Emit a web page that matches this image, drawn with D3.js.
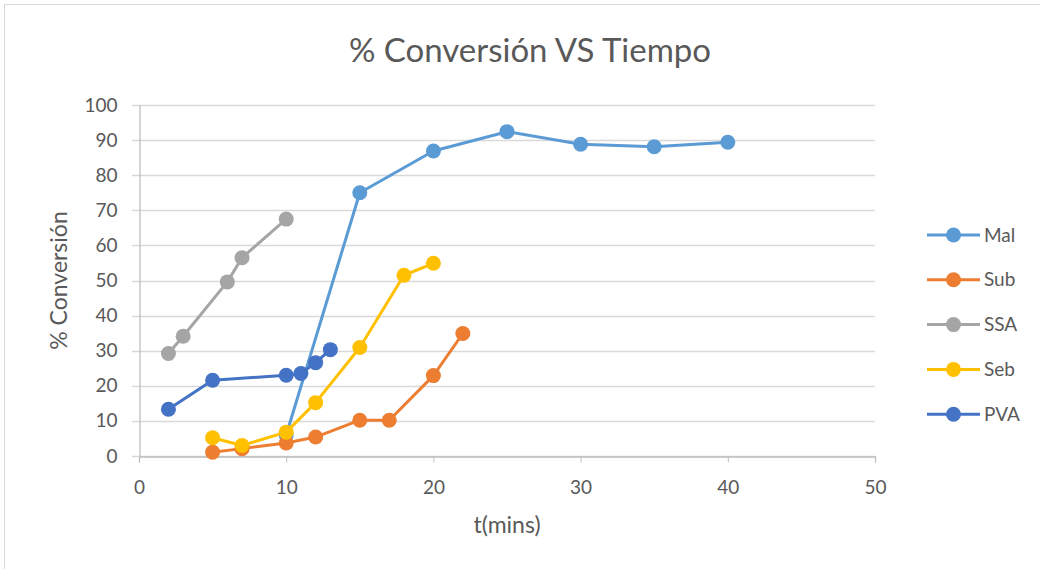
<!DOCTYPE html>
<html>
<head>
<meta charset="utf-8">
<script src="https://cdnjs.cloudflare.com/ajax/libs/d3/7.8.5/d3.min.js"></script>
<style>
  body { margin: 0; background: #fff; }
  text { font-family: Lato, "Open Sans", sans-serif; fill: #595959; }
</style>
</head>
<body>
<script>
// data
var seriesNames = ["Mal", "Sub", "SSA", "Seb", "PVA"];
var seriesColors = ["#5B9BD5", "#ED7D31", "#A5A5A5", "#FFC000", "#4472C4"];

var malT = [10, 15, 20, 25, 30, 35, 40];
var malV = [6.0, 75.0, 86.9, 92.4, 88.8, 88.1, 89.4];

var subT = [5, 7, 10, 12, 15, 17, 20, 22];
var subV = [1.1, 2.1, 3.7, 5.4, 10.2, 10.2, 22.9, 34.9];

var ssaT = [2, 3, 6, 7, 10];
var ssaV = [29.2, 34.1, 49.6, 56.5, 67.5];

var sebT = [5, 7, 10, 12, 15, 18, 20];
var sebV = [5.2, 3.0, 6.8, 15.2, 30.9, 51.5, 54.9];

var pvaT = [2, 5, 10, 11, 12, 13];
var pvaV = [13.3, 21.6, 23.0, 23.5, 26.6, 30.3];

var xTicks = [0, 10, 20, 30, 40, 50];
var yTicks = [0, 10, 20, 30, 40, 50, 60, 70, 80, 90, 100];

var allT = [malT, subT, ssaT, sebT, pvaT];
var allV = [malV, subV, ssaV, sebV, pvaV];

var series = seriesNames.map(function(name, i) {
    return {
        name: name,
        color: seriesColors[i],
        points: allT[i].map(function(t, j) { return {t: t, v: allV[i][j]}; })
    };
});

var width = 1040, height = 569;
var margin = {top: 105, left: 139, right: 165, bottom: 113};

var svg = d3.select("body").append("svg")
    .attr("width", width)
    .attr("height", height);

// chart border
svg.append("rect")
    .attr("x", 4.5).attr("y", 4.5)
    .attr("width", width + 10).attr("height", height + 10)
    .attr("fill", "none")
    .attr("stroke", "#D9D9D9");

var xScale = d3.scaleLinear().domain([0, 50]).range([margin.left, width - margin.right]);
var yScale = d3.scaleLinear().domain([0, 100]).range([height - margin.bottom, margin.top]);

// gridlines
svg.append("g")
    .selectAll("line")
    .data(yTicks)
    .enter()
    .append("line")
        .attr("x1", xScale(0) - 7)
        .attr("x2", xScale(50))
        .attr("y1", function(d) { return Math.round(yScale(d)) + 0.5; })
        .attr("y2", function(d) { return Math.round(yScale(d)) + 0.5; })
        .attr("stroke", "#D9D9D9")
        .attr("stroke-width", 1.3);

// axes
var xAxisCall = d3.axisBottom(xScale).tickValues(xTicks).tickSize(6).tickPadding(18);
var xAxis = svg.append("g")
    .attr("transform", "translate(0," + (Math.round(yScale(0)) + 0.5) + ")")
    .call(xAxisCall);
xAxis.select(".domain").attr("stroke", "#BFBFBF").attr("stroke-width", 1.3);
xAxis.selectAll(".tick line").attr("stroke", "#BFBFBF");
xAxis.selectAll("text").attr("font-size", 19).attr("fill", "#595959");

var yAxisCall = d3.axisLeft(yScale).tickValues(yTicks).tickSize(0).tickPadding(22);
var yAxis = svg.append("g")
    .attr("transform", "translate(" + (Math.round(xScale(0)) + 0.5) + ",0)")
    .call(yAxisCall);
yAxis.select(".domain").attr("stroke", "#BFBFBF").attr("stroke-width", 1.3);
yAxis.selectAll("text").attr("font-size", 19).attr("fill", "#595959");

// series
var line = d3.line()
    .x(function(d) { return xScale(d.t); })
    .y(function(d) { return yScale(d.v); });

var groups = svg.append("g")
    .selectAll("g")
    .data(series)
    .enter()
    .append("g");

groups.append("path")
    .attr("d", function(d) { return line(d.points); })
    .attr("fill", "none")
    .attr("stroke", function(d) { return d.color; })
    .attr("stroke-width", 3)
    .attr("stroke-linejoin", "round");

groups.selectAll("circle")
    .data(function(d) { return d.points.map(function(p) { return {t: p.t, v: p.v, color: d.color}; }); })
    .enter()
    .append("circle")
        .attr("cx", function(d) { return xScale(d.t); })
        .attr("cy", function(d) { return yScale(d.v); })
        .attr("r", 7.5)
        .attr("fill", function(d) { return d.color; });

// title
svg.append("text")
    .text("% Conversión VS Tiempo")
    .attr("x", 530)
    .attr("y", 62)
    .attr("text-anchor", "middle")
    .attr("font-size", 33);

// axis titles
svg.append("text")
    .text("t(mins)")
    .attr("x", xScale(25))
    .attr("y", 533)
    .attr("text-anchor", "middle")
    .attr("font-size", 23);

svg.append("text")
    .text("% Conversión")
    .attr("text-anchor", "middle")
    .attr("font-size", 23)
    .attr("transform", "translate(67," + yScale(50) + ") rotate(-90)");

// legend
var legend = svg.append("g")
    .selectAll("g")
    .data(series)
    .enter()
    .append("g")
        .attr("transform", function(d, i) { return "translate(927," + (235 + i * 44.8) + ")"; });

legend.append("line")
    .attr("x1", 0).attr("x2", 53)
    .attr("stroke", function(d) { return d.color; })
    .attr("stroke-width", 3);

legend.append("circle")
    .attr("cx", 26.5)
    .attr("r", 7.5)
    .attr("fill", function(d) { return d.color; });

legend.append("text")
    .text(function(d) { return d.name; })
    .attr("x", 57)
    .attr("dy", "0.35em")
    .attr("font-size", 19);
</script>
</body>
</html>
